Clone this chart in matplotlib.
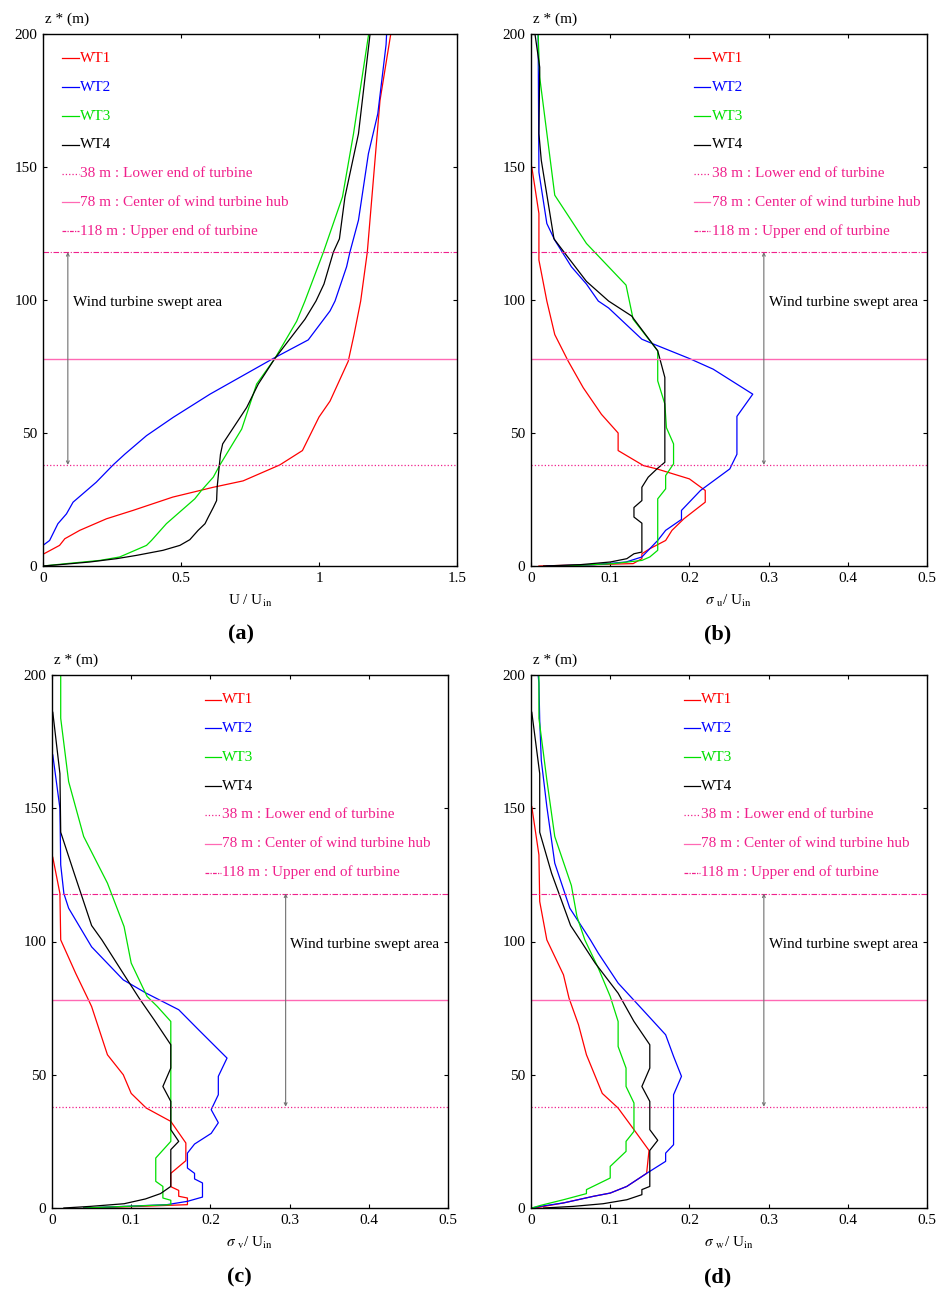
import matplotlib
matplotlib.use("Agg")
import matplotlib.pyplot as plt

plt.rcParams['font.family'] = ['Liberation Serif', 'DejaVu Serif']
plt.rcParams['mathtext.fontset'] = 'stix'

# heights (m) and values
# (a) U / Uin
a1_x = [0, 0.06, 0.079, 0.133, 0.23, 0.326, 0.47, 0.617, 0.725, 0.858, 0.94, 1.0, 1.04, 1.106, 1.127, 1.151, 1.175, 1.221, 1.26]
a1_z = [4.4, 7.75, 10.25, 13.4, 17.75, 20.9, 25.9, 29.6, 32, 38, 43.4, 56, 62, 77, 87, 99.6, 118, 175, 200]
a2_x = [0, 0.024, 0.054, 0.085, 0.109, 0.151, 0.193, 0.254, 0.296, 0.375, 0.472, 0.605, 0.834, 0.961, 1.04, 1.058, 1.10, 1.112, 1.143, 1.179, 1.213, 1.243, 1.245]
a2_z = [7.75, 9.6, 15.9, 19.6, 24, 27.75, 31.5, 38, 42, 49, 55.9, 64.6, 78, 85, 95.9, 99.6, 112.5, 118, 130, 155, 170, 196, 200]
a3_x = [0, 0.085, 0.206, 0.278, 0.375, 0.393, 0.447, 0.55, 0.574, 0.617, 0.641, 0.72, 0.774, 0.84, 0.919, 0.949, 1.016, 1.085, 1.125, 1.18]
a3_z = [0, 0.9, 2.1, 3.4, 7.75, 9.6, 15.9, 25.25, 28.4, 33.4, 38, 51.5, 68.4, 78, 92, 99.6, 118, 138.75, 162.5, 200]
a4_x = [0, 0.06, 0.169, 0.266, 0.339, 0.435, 0.496, 0.532, 0.562, 0.587, 0.599, 0.617, 0.629, 0.631, 0.638, 0.643, 0.651, 0.738, 0.78, 0.84, 0.949, 0.989, 1.018, 1.052, 1.074, 1.094, 1.143, 1.185]
a4_z = [0, 0.5, 1.5, 2.75, 4, 5.9, 7.75, 9.9, 13.4, 15.9, 18.4, 22, 24.6, 29.6, 37, 42, 45.9, 59.6, 68.4, 78, 92.75, 99.6, 106, 118, 123, 138.75, 162.5, 200]

# (b) sigma_u / Uin
b1_x = [0.01, 0.05, 0.129, 0.14, 0.14, 0.15, 0.17, 0.178, 0.193, 0.22, 0.22, 0.20, 0.159, 0.142, 0.11, 0.11, 0.089, 0.066, 0.047, 0.03, 0.02, 0.01, 0.01, 0.001]
b1_z = [0, 0.3, 0.9, 2.75, 4.6, 6.5, 9.6, 13.4, 17.75, 24, 28.4, 32.75, 36.5, 37.75, 43.4, 50, 57, 67, 77, 87, 99.6, 115, 132.5, 150]
b2_x = [0.02, 0.08, 0.12, 0.14, 0.15, 0.16, 0.17, 0.19, 0.19, 0.214, 0.251, 0.26, 0.26, 0.28, 0.23, 0.20, 0.155, 0.14, 0.098, 0.085, 0.07, 0.051, 0.03, 0.02, 0.01, 0.009]
b2_z = [0, 0.5, 1.5, 3.4, 6.5, 9.6, 13.4, 17.5, 20.9, 28.4, 36.5, 42, 56.25, 64.6, 74, 78, 83.4, 85.25, 97, 99.6, 106, 112.5, 122.5, 128.75, 148, 200]
b3_x = [0.04, 0.104, 0.14, 0.15, 0.16, 0.16, 0.17, 0.17, 0.18, 0.18, 0.171, 0.169, 0.16, 0.16, 0.129, 0.12, 0.07, 0.03, 0.011, 0.009]
b3_z = [0, 0.9, 2.1, 3.4, 5.9, 25.25, 29, 34, 38.4, 45.9, 52, 60.9, 69.6, 80.9, 92.75, 105.6, 121.25, 139.4, 183.75, 200]
b4_x = [0.016, 0.062, 0.10, 0.121, 0.13, 0.14, 0.14, 0.13, 0.13, 0.14, 0.14, 0.148, 0.159, 0.169, 0.169, 0.16, 0.127, 0.098, 0.07, 0.043, 0.029, 0.013, 0.01, 0.011, 0.005]
b4_z = [0, 0.5, 1.5, 2.75, 4.6, 5.25, 16.1, 18.4, 22, 24.6, 29.6, 33.4, 36.5, 39, 70.9, 80.9, 94, 99.6, 107, 117.5, 123, 152.5, 162.5, 187.5, 200]

# (c) sigma_v / Uin
c1_x = [0.04, 0.11, 0.171, 0.171, 0.16, 0.16, 0.15, 0.15, 0.169, 0.169, 0.15, 0.119, 0.10, 0.09, 0.07, 0.05, 0.045, 0.03, 0.011, 0.01, 0.001]
c1_z = [0, 0.6, 1.25, 3.75, 4.4, 6.6, 8, 13, 17.75, 24.4, 32.5, 37.5, 43, 50, 57.5, 75.6, 78.75, 88, 100.6, 118, 131.6]
c2_x = [0.04, 0.145, 0.171, 0.19, 0.19, 0.18, 0.18, 0.171, 0.171, 0.18, 0.201, 0.21, 0.201, 0.21, 0.21, 0.221, 0.185, 0.16, 0.119, 0.09, 0.05, 0.021, 0.015, 0.011, 0.01, 0.001]
c2_z = [0, 1.25, 2.5, 4.1, 9.4, 10.9, 13, 15, 20.6, 24, 28, 32, 36.9, 42.5, 49.4, 56.25, 66.9, 74.4, 80.6, 85.6, 98, 112.5, 118, 128.75, 150, 170]
c3_x = [0.04, 0.15, 0.15, 0.14, 0.14, 0.131, 0.131, 0.15, 0.15, 0.133, 0.12, 0.10, 0.091, 0.07, 0.04, 0.021, 0.011, 0.011]
c3_z = [0, 1.25, 2.9, 3.75, 8.1, 10, 18.75, 25, 70, 75.6, 79.4, 91.9, 105.6, 121.9, 139.4, 160, 183.75, 200]
c4_x = [0.015, 0.048, 0.091, 0.118, 0.137, 0.15, 0.15, 0.16, 0.15, 0.15, 0.14, 0.15, 0.15, 0.129, 0.11, 0.09, 0.063, 0.05, 0.028, 0.011, 0.01, 0.001]
c4_z = [0, 0.6, 1.6, 3.4, 5.4, 8.1, 21.9, 25, 29.4, 40, 45.6, 52.5, 61.25, 70.6, 78.75, 88, 100.6, 106, 125.6, 141, 163, 186]

# (d) sigma_w / Uin
d1_x = [0.005, 0.041, 0.079, 0.1, 0.121, 0.146, 0.149, 0.13, 0.11, 0.09, 0.07, 0.06, 0.048, 0.041, 0.02, 0.011, 0.01, 0.001]
d1_z = [0, 1.9, 4.4, 5.6, 8.1, 13, 21.6, 29.4, 37.5, 43, 57.5, 68.75, 78.75, 87.5, 100.6, 115, 132.5, 150.6]
d2_x = [0.001, 0.011, 0.041, 0.079, 0.1, 0.121, 0.146, 0.17, 0.17, 0.18, 0.18, 0.19, 0.18, 0.17, 0.141, 0.11, 0.085, 0.075, 0.049, 0.03, 0.02, 0.013, 0.011, 0.01, 0.009]
d2_z = [0, 0.6, 1.9, 4.4, 5.6, 8.1, 13, 17.5, 20.6, 23.75, 42.5, 49.4, 56.9, 65, 74.4, 84.4, 95.6, 100.6, 112.5, 129.4, 150.6, 168, 183, 197, 200]
d3_x = [0.001, 0.011, 0.041, 0.07, 0.07, 0.1, 0.1, 0.12, 0.12, 0.13, 0.13, 0.12, 0.12, 0.11, 0.11, 0.1, 0.085, 0.068, 0.058, 0.051, 0.03, 0.02, 0.01, 0.01]
d3_z = [0, 0.9, 3.1, 5.4, 6.9, 11.25, 15.6, 21.25, 25, 28.75, 39.4, 45.6, 52.5, 60.6, 70, 79.4, 90, 100.6, 109.4, 121, 139.4, 160.6, 183.75, 200]
d4_x = [0.016, 0.053, 0.091, 0.121, 0.14, 0.14, 0.15, 0.15, 0.16, 0.15, 0.15, 0.14, 0.15, 0.15, 0.13, 0.11, 0.081, 0.062, 0.05, 0.026, 0.011, 0.011, 0.001]
d4_z = [0, 0.6, 1.6, 3.1, 5, 6.9, 8.1, 21.6, 25.4, 29.4, 40, 45.6, 52.5, 61.25, 70, 80.6, 91.9, 100.6, 106, 125.6, 141, 163, 186]

labels = ['WT1', 'WT2', 'WT3', 'WT4']
colors = ['#ff0000', '#0000ff', '#00e000', '#000000']
ref_heights = [38, 78, 118]
ref_labels = ['38 m : Lower end of turbine', '78 m : Center of wind turbine hub', '118 m : Upper end of turbine']
pink = '#f0208c'
hub_pink = '#ff69b4'

fig = plt.figure(figsize=(9.37, 12.93), dpi=100)
W, H = 937.0, 1293.0


def make_axes(l, r, t, b):
    return fig.add_axes([l / W, 1 - b / H, (r - l) / W, (b - t) / H])


def panel(ax, xs, zs, xmax, xticks, xlabel, leg_x, arrow_x, text_x, tag, tag_x, tag_y):
    for x, z, c in zip(xs, zs, colors):
        ax.plot(x, z, color=c, lw=0.9)
    ax.axhline(ref_heights[0], color=pink, lw=0.9, ls=':')
    ax.axhline(ref_heights[1], color=hub_pink, lw=1.0, ls='-')
    ax.axhline(ref_heights[2], color=pink, lw=0.8, dashes=(5, 1.5, 1, 1.5))
    ax.annotate('', xy=(arrow_x, 38), xytext=(arrow_x, 118),
                arrowprops=dict(arrowstyle='<->', color='#707070', lw=0.8, mutation_scale=5, shrinkA=0, shrinkB=0))
    ax.text(text_x, 99, 'Wind turbine swept area', fontsize=11, va='center', ha='left')
    ax.set_xlim(0, xmax)
    ax.set_ylim(0, 200)
    ax.set_xticks(xticks)
    ax.set_xticklabels(['%g' % v for v in xticks])
    ax.set_yticks([0, 50, 100, 150, 200])
    ax.tick_params(direction='in', length=3, width=0.8, top=True, right=True, labelsize=11, pad=4)
    for s in ax.spines.values():
        s.set_linewidth(1.0)
    ax.set_xlabel(xlabel, fontsize=11, labelpad=6)
    ax.text(0.006, 1.028, 'z * (m)', transform=ax.transAxes, fontsize=11, va='center')

    # legend drawn by hand to match the layout
    styles = [dict(color=c, ls='-') for c in colors]
    styles += [dict(color=pink, ls=':'), dict(color=hub_pink, ls='-'), dict(color=pink, dashes=(3, 1, 1, 1))]
    texts = labels + ref_labels
    tcolors = colors + [pink, pink, pink]
    for i in range(7):
        y = 0.954 - i * 0.0541
        ax.plot([leg_x, leg_x + 0.04], [y, y], transform=ax.transAxes, lw=0.9, **styles[i])
        ax.text(leg_x + 0.044, y, texts[i], transform=ax.transAxes, color=tcolors[i],
                fontsize=11, va='center', ha='left')
    fig.text(tag_x / W, 1 - tag_y / H, tag, fontsize=16, fontweight='bold', ha='center', va='center')


ax_a = make_axes(43, 457, 34, 566)
panel(ax_a, [a1_x, a2_x, a3_x, a4_x], [a1_z, a2_z, a3_z, a4_z], 1.5, [0, 0.5, 1, 1.5],
      r'U / U$_{\rm in}$', 0.046, 0.09, 0.108, '(a)', 241, 634)

ax_b = make_axes(531, 927, 34, 566)
panel(ax_b, [b1_x, b2_x, b3_x, b4_x], [b1_z, b2_z, b3_z, b4_z], 0.5, [0, 0.1, 0.2, 0.3, 0.4, 0.5],
      r'$\sigma$ $_{\rm u}$/ U$_{\rm in}$', 0.412, 0.294, 0.30, '(b)', 718, 634)

ax_c = make_axes(52, 448, 675, 1208)
panel(ax_c, [c1_x, c2_x, c3_x, c4_x], [c1_z, c2_z, c3_z, c4_z], 0.5, [0, 0.1, 0.2, 0.3, 0.4, 0.5],
      r'$\sigma$ $_{\rm v}$/ U$_{\rm in}$', 0.386, 0.295, 0.30, '(c)', 239, 1277)

ax_d = make_axes(531, 927, 675, 1208)
panel(ax_d, [d1_x, d2_x, d3_x, d4_x], [d1_z, d2_z, d3_z, d4_z], 0.5, [0, 0.1, 0.2, 0.3, 0.4, 0.5],
      r'$\sigma$ $_{\rm w}$/ U$_{\rm in}$', 0.386, 0.294, 0.30, '(d)', 718, 1277)

fig.savefig('out.png', dpi=100)
